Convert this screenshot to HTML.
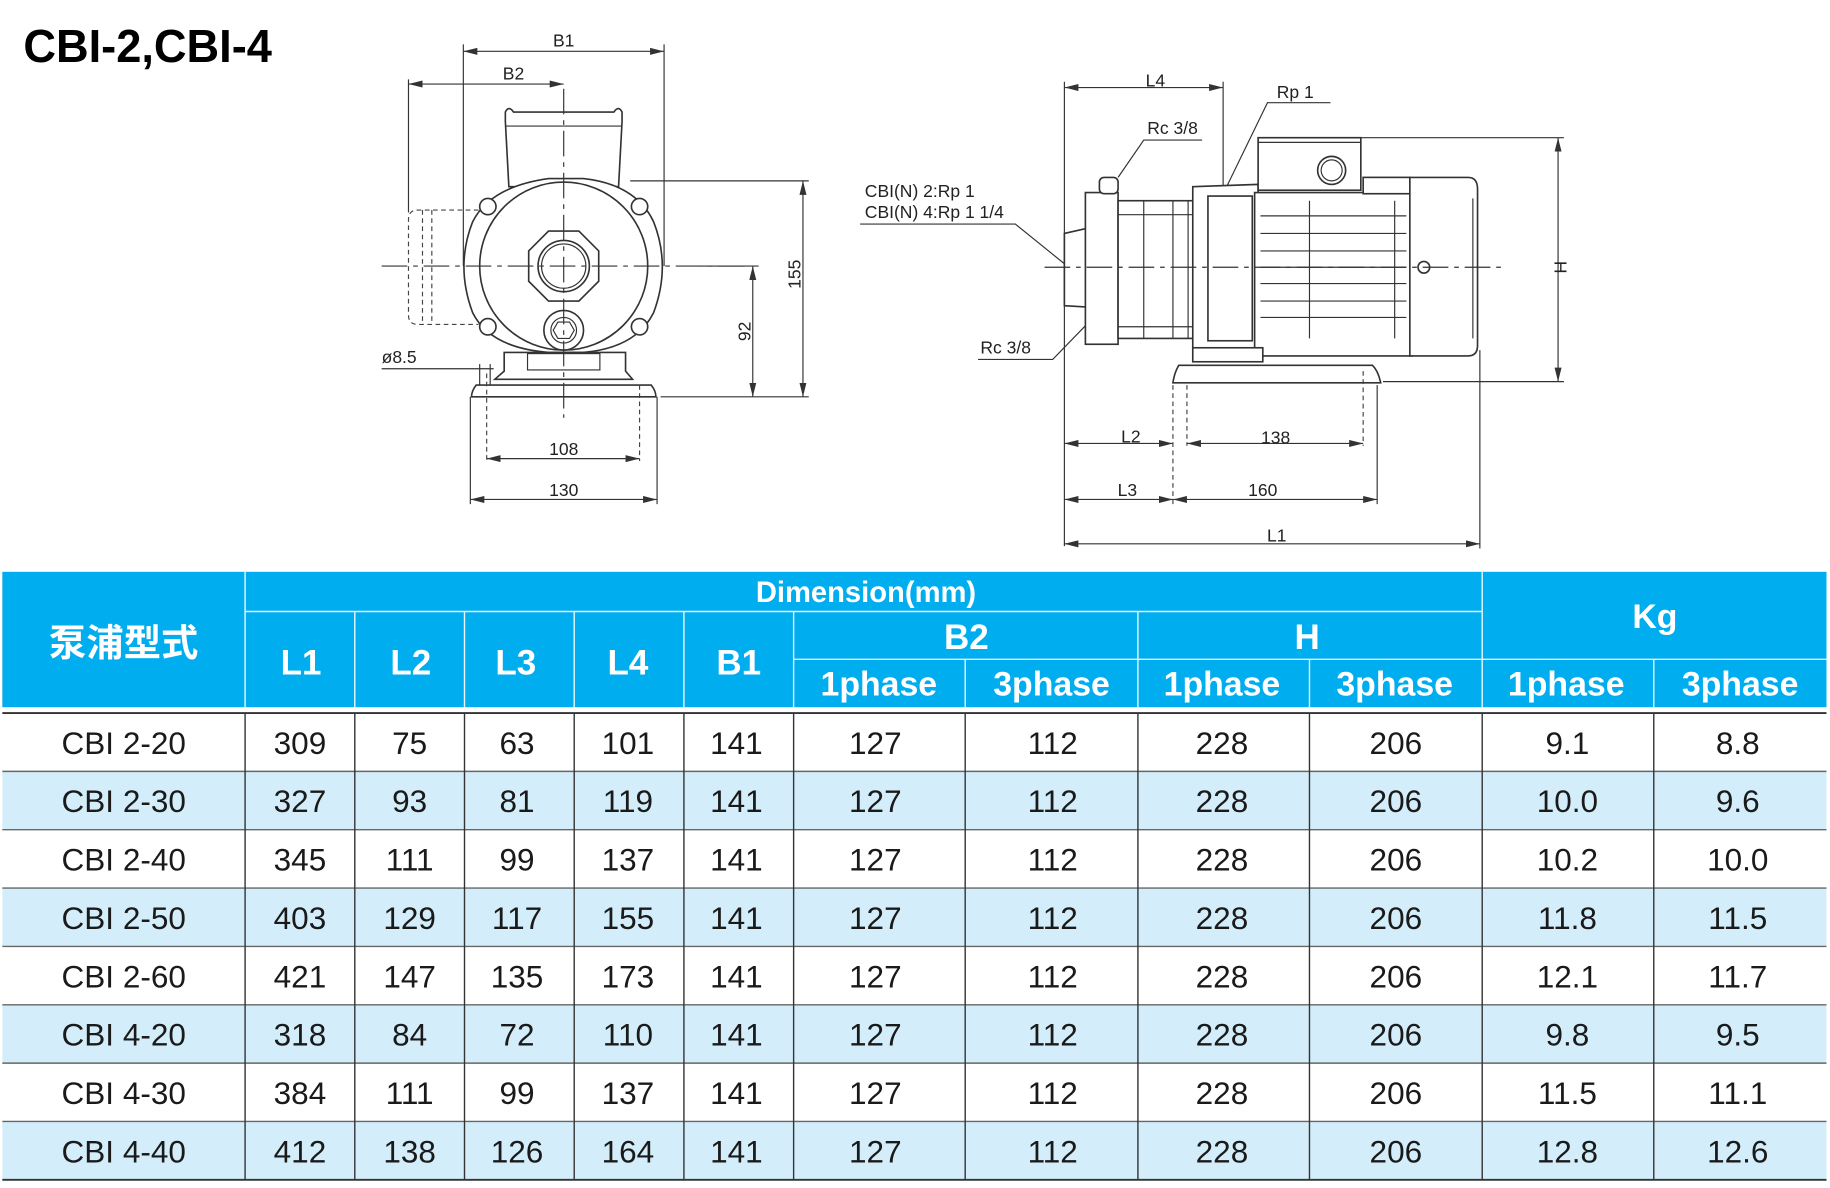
<!DOCTYPE html>
<html><head><meta charset="utf-8"><style>
html,body{margin:0;padding:0;background:#fff;}
svg{display:block;}
.d{font-family:"Liberation Sans",sans-serif;font-size:15px;fill:#222;}
.ln{stroke:#333;stroke-width:1;fill:none;}
.pt{stroke:#333;stroke-width:1.4;fill:#fff;}
.cl{stroke:#333;stroke-width:1;stroke-dasharray:22 5 4 5;fill:none;}
.dsh{stroke:#444;stroke-width:1;stroke-dasharray:4 3;fill:none;}
.h{font-family:"Liberation Sans","Noto Sans CJK TC",sans-serif;font-weight:bold;fill:#fff;text-anchor:middle;}
.t{font-family:"Liberation Sans",sans-serif;font-size:27px;fill:#1a1a1a;text-anchor:middle;}
</style></head><body>
<svg width="1830" height="1188" viewBox="0 0 1568 1018" preserveAspectRatio="none" xmlns="http://www.w3.org/2000/svg">
<defs>
<marker id="a" viewBox="0 0 12 6" refX="12" refY="3" markerWidth="12" markerHeight="6" orient="auto-start-reverse" markerUnits="userSpaceOnUse"><path d="M0,0 L12,3 L0,6 z" fill="#333"/></marker>
</defs>
<text x="20" y="53" font-family="Liberation Sans,sans-serif" font-weight="bold" font-size="40" textLength="213" lengthAdjust="spacingAndGlyphs">CBI-2,CBI-4</text>

<!-- FRONT VIEW -->
<g>
<line class="ln" x1="397" y1="44" x2="569" y2="44" marker-start="url(#a)" marker-end="url(#a)"/>
<text class="d" x="483" y="40" text-anchor="middle">B1</text>
<line class="ln" x1="397" y1="38" x2="397" y2="228"/>
<line class="ln" x1="569" y1="38" x2="569" y2="228"/>
<line class="ln" x1="350" y1="72" x2="483" y2="72" marker-start="url(#a)" marker-end="url(#a)"/>
<text class="d" x="440" y="68" text-anchor="middle">B2</text>
<line class="ln" x1="350" y1="68" x2="350" y2="182"/>
<!-- inlet dashed -->
<path class="dsh" d="M410,180 L358,180 Q350,180 350,188 L350,270 Q350,278 358,278 L410,278"/>
<line class="dsh" x1="362" y1="180" x2="362" y2="278"/><line class="dsh" x1="370" y1="180" x2="370" y2="278"/>
<!-- terminal box -->
<path class="pt" d="M433,104 L433,96 Q436,90 440,96 L526,96 Q530,90 533,96 L533,104 L530,160 L436,160 Z"/>
<line class="ln" x1="433" y1="108" x2="533" y2="108"/>
<!-- body -->
<path class="pt" d="M405,190 Q420,160 470,153 L500,153 Q545,158 560,190 Q575,228 560,268 Q545,298 500,302 L470,302 Q420,298 405,268 Q390,228 405,190 Z"/>
<circle class="pt" cx="483" cy="228" r="72"/>
<circle class="pt" cx="418" cy="177" r="7"/><circle class="pt" cx="548" cy="177" r="7"/>
<circle class="pt" cx="418" cy="280" r="7"/><circle class="pt" cx="548" cy="280" r="7"/>
<path class="pt" d="M470,198 L496,198 L513,215 L513,241 L496,258 L470,258 L453,241 L453,215 Z"/>
<circle class="pt" cx="483" cy="228" r="22"/><circle class="ln" cx="483" cy="228" r="19"/>
<circle class="pt" cx="483" cy="283" r="17"/><circle class="ln" cx="483" cy="283" r="11"/>
<path class="ln" d="M478,276 L488,276 L492,283 L488,290 L478,290 L474,283 Z"/>
<!-- foot -->
<path class="pt" d="M432,302 L432,318 L424,325 L542,325 L536,318 L536,302 Z"/>
<rect class="ln" x="452" y="303" width="62" height="14"/>
<path class="pt" d="M408,330 Q404,335 404,340 L562,340 Q562,335 558,330 Z"/>
<!-- centerlines -->
<line class="cl" x1="327" y1="228" x2="640" y2="228"/>
<line class="cl" x1="483" y1="76" x2="483" y2="358"/>
<!-- 155 / 92 -->
<line class="ln" x1="540" y1="155" x2="693" y2="155"/>
<line class="ln" x1="566" y1="340" x2="693" y2="340"/>
<line class="ln" x1="600" y1="228" x2="650" y2="228"/>
<line class="ln" x1="688" y1="155" x2="688" y2="340" marker-start="url(#a)" marker-end="url(#a)"/>
<line class="ln" x1="645" y1="228" x2="645" y2="340" marker-start="url(#a)" marker-end="url(#a)"/>
<text class="d" x="0" y="0" font-size="17" text-anchor="middle" transform="translate(686,235) rotate(-90)">155</text>
<text class="d" x="0" y="0" font-size="17" text-anchor="middle" transform="translate(643,284) rotate(-90)">92</text>
<!-- ø8.5 -->
<text class="d" x="327" y="311" font-size="17">ø8.5</text>
<line class="ln" x1="327" y1="316" x2="423" y2="316"/>
<line class="ln" x1="411" y1="312" x2="411" y2="330"/><line class="ln" x1="420" y1="312" x2="420" y2="330"/>
<!-- 108 / 130 -->
<line class="dsh" x1="417" y1="320" x2="417" y2="395"/><line class="dsh" x1="548" y1="330" x2="548" y2="395"/>
<line class="ln" x1="417" y1="393" x2="548" y2="393" marker-start="url(#a)" marker-end="url(#a)"/>
<text class="d" x="483" y="390" font-size="17" text-anchor="middle">108</text>
<line class="ln" x1="403" y1="340" x2="403" y2="432"/><line class="ln" x1="563" y1="340" x2="563" y2="432"/>
<line class="ln" x1="403" y1="428" x2="563" y2="428" marker-start="url(#a)" marker-end="url(#a)"/>
<text class="d" x="483" y="425" font-size="17" text-anchor="middle">130</text>
</g>

<!-- SIDE VIEW -->
<g>
<line class="ln" x1="912" y1="75" x2="1048" y2="75" marker-start="url(#a)" marker-end="url(#a)"/>
<text class="d" x="990" y="74" text-anchor="middle">L4</text>
<line class="ln" x1="912" y1="70" x2="912" y2="468"/>
<line class="ln" x1="1048" y1="70" x2="1048" y2="160"/>
<!-- Rp1 -->
<text class="d" x="1094" y="84">Rp 1</text>
<polyline class="ln" points="1140,88 1086,88 1051,160"/>
<!-- Rc top -->
<text class="d" x="983" y="115">Rc 3/8</text>
<polyline class="ln" points="1030,120 980,120 958,152"/>
<!-- CBI -->
<text class="d" x="741" y="169">CBI(N) 2:Rp 1</text>
<text class="d" x="741" y="187">CBI(N) 4:Rp 1 1/4</text>
<polyline class="ln" points="737,192 870,192 912,226"/>
<!-- Rc bottom -->
<text class="d" x="840" y="303">Rc 3/8</text>
<polyline class="ln" points="838,308 902,308 934,275"/>
<!-- pump head -->
<path class="pt" d="M912,200 L930,196 Q936,208 930,217 Q936,228 930,240 Q936,252 930,263 L912,262 Z"/>
<rect class="pt" x="930" y="165" width="28" height="130"/>
<rect class="pt" x="942" y="152" width="16" height="14" rx="4"/>
<rect class="pt" x="958" y="172" width="80" height="118"/>
<line class="ln" x1="980" y1="172" x2="980" y2="290"/><line class="ln" x1="1005" y1="172" x2="1005" y2="290"/><line class="ln" x1="1018" y1="172" x2="1018" y2="290"/>
<line class="ln" x1="958" y1="184" x2="1038" y2="184"/><line class="ln" x1="958" y1="280" x2="1038" y2="280"/>
<path class="pt" d="M1022,160 L1078,158 L1078,298 L1022,298 Z"/>
<rect class="pt" x="1035" y="168" width="38" height="124"/>
<!-- motor -->
<rect class="pt" x="1078" y="118" width="88" height="45"/>
<line class="ln" x1="1078" y1="122" x2="1166" y2="122"/>
<circle class="pt" cx="1141" cy="146" r="12"/><circle class="ln" cx="1141" cy="146" r="9"/>
<path class="pt" d="M1075,165 L1210,165 L1210,305 L1075,305 Z"/>
<rect class="pt" x="1168" y="152" width="40" height="14"/>
<g class="ln">
<line x1="1080" y1="185" x2="1205" y2="185"/><line x1="1080" y1="200" x2="1205" y2="200"/>
<line x1="1080" y1="215" x2="1205" y2="215"/><line x1="1080" y1="229" x2="1205" y2="229"/>
<line x1="1080" y1="243" x2="1205" y2="243"/><line x1="1080" y1="258" x2="1205" y2="258"/>
<line x1="1080" y1="272" x2="1205" y2="272"/>
<line x1="1122" y1="172" x2="1122" y2="290"/><line x1="1195" y1="172" x2="1195" y2="290"/>
</g>
<path class="pt" d="M1208,152 L1258,152 Q1266,152 1266,162 L1266,296 Q1266,305 1258,305 L1208,305 Z"/>
<line class="ln" x1="1262" y1="170" x2="1262" y2="290"/>
<circle class="pt" cx="1220" cy="229" r="5"/>
<rect class="pt" x="1022" y="298" width="60" height="12"/>
<path class="pt" d="M1010,313 Q1006,320 1005,328 L1183,328 Q1181,318 1176,313 Z"/>
<line class="cl" x1="895" y1="229" x2="1290" y2="229"/>
<!-- H -->
<line class="ln" x1="1166" y1="118" x2="1340" y2="118"/>
<line class="ln" x1="1185" y1="327" x2="1340" y2="327"/>
<line class="ln" x1="1335" y1="118" x2="1335" y2="327" marker-start="url(#a)" marker-end="url(#a)"/>
<text class="d" x="0" y="0" text-anchor="middle" transform="translate(1332,229) rotate(90)">H</text>
<!-- bottom dims -->
<line class="dsh" x1="1005" y1="330" x2="1005" y2="432"/><line class="dsh" x1="1017" y1="330" x2="1017" y2="382"/>
<line class="dsh" x1="1168" y1="318" x2="1168" y2="382"/><line class="ln" x1="1180" y1="330" x2="1180" y2="432"/>
<line class="ln" x1="1268" y1="300" x2="1268" y2="470"/>
<line class="ln" x1="912" y1="380" x2="1005" y2="380" marker-start="url(#a)" marker-end="url(#a)"/>
<text class="d" x="969" y="379" text-anchor="middle">L2</text>
<line class="ln" x1="1017" y1="380" x2="1168" y2="380" marker-start="url(#a)" marker-end="url(#a)"/>
<text class="d" x="1093" y="380" font-size="17" text-anchor="middle">138</text>
<line class="ln" x1="912" y1="428" x2="1005" y2="428" marker-start="url(#a)" marker-end="url(#a)"/>
<text class="d" x="966" y="425" text-anchor="middle">L3</text>
<line class="ln" x1="1005" y1="428" x2="1180" y2="428" marker-start="url(#a)" marker-end="url(#a)"/>
<text class="d" x="1082" y="425" font-size="17" text-anchor="middle">160</text>
<line class="ln" x1="912" y1="466" x2="1268" y2="466" marker-start="url(#a)" marker-end="url(#a)"/>
<text class="d" x="1094" y="464" text-anchor="middle">L1</text>
</g>

<!-- TABLE -->
<rect x="2" y="490" width="1563" height="116" fill="#00adee"/>
<g stroke="#e8f7fd" stroke-width="1.2">
<line x1="210" y1="490" x2="210" y2="606"/>
<line x1="1270" y1="490" x2="1270" y2="606"/>
<line x1="210" y1="524" x2="1270" y2="524"/>
<line x1="304" y1="524" x2="304" y2="606"/><line x1="398" y1="524" x2="398" y2="606"/>
<line x1="492" y1="524" x2="492" y2="606"/><line x1="586" y1="524" x2="586" y2="606"/>
<line x1="680" y1="524" x2="680" y2="606"/><line x1="975" y1="524" x2="975" y2="606"/>
<line x1="680" y1="565" x2="1565" y2="565"/>
<line x1="827" y1="565" x2="827" y2="606"/><line x1="1122" y1="565" x2="1122" y2="606"/>
<line x1="1417" y1="565" x2="1417" y2="606"/>
</g>
<text class="h" x="106" y="562" font-size="32">泵浦型式</text>
<text class="h" x="742" y="516" font-size="25">Dimension(mm)</text>
<text class="h" x="1418" y="538" font-size="29">Kg</text>
<text class="h" x="258" y="578" font-size="30">L1</text>
<text class="h" x="352" y="578" font-size="30">L2</text>
<text class="h" x="442" y="578" font-size="30">L3</text>
<text class="h" x="538" y="578" font-size="30">L4</text>
<text class="h" x="633" y="578" font-size="30">B1</text>
<text class="h" x="828" y="556" font-size="30">B2</text>
<text class="h" x="1120" y="556" font-size="30">H</text>
<g font-size="29">
<text class="h" x="753" y="596" font-size="29">1phase</text>
<text class="h" x="901" y="596" font-size="29">3phase</text>
<text class="h" x="1047" y="596" font-size="29">1phase</text>
<text class="h" x="1195" y="596" font-size="29">3phase</text>
<text class="h" x="1342" y="596" font-size="29">1phase</text>
<text class="h" x="1491" y="596" font-size="29">3phase</text>
</g>
<!-- rows -->
<rect x="2" y="661" width="1563" height="50" fill="#d3eefa"/>
<rect x="2" y="761" width="1563" height="50" fill="#d3eefa"/>
<rect x="2" y="861" width="1563" height="50" fill="#d3eefa"/>
<rect x="2" y="961" width="1563" height="50" fill="#d3eefa"/>
<g stroke="#333" stroke-width="1.2">
<line x1="2" y1="611" x2="1565" y2="611" stroke-width="1.6"/>
<line x1="2" y1="661" x2="1565" y2="661" stroke="#666"/>
<line x1="2" y1="711" x2="1565" y2="711" stroke="#666"/>
<line x1="2" y1="761" x2="1565" y2="761" stroke="#666"/>
<line x1="2" y1="811" x2="1565" y2="811" stroke="#666"/>
<line x1="2" y1="861" x2="1565" y2="861" stroke="#666"/>
<line x1="2" y1="911" x2="1565" y2="911" stroke="#666"/>
<line x1="2" y1="961" x2="1565" y2="961" stroke="#666"/>
<line x1="2" y1="1011" x2="1565" y2="1011" stroke-width="1.6"/>
<line x1="210" y1="611" x2="210" y2="1011"/><line x1="304" y1="611" x2="304" y2="1011"/>
<line x1="398" y1="611" x2="398" y2="1011"/><line x1="492" y1="611" x2="492" y2="1011"/>
<line x1="586" y1="611" x2="586" y2="1011"/><line x1="680" y1="611" x2="680" y2="1011"/>
<line x1="827" y1="611" x2="827" y2="1011"/><line x1="975" y1="611" x2="975" y2="1011"/>
<line x1="1122" y1="611" x2="1122" y2="1011"/><line x1="1270" y1="611" x2="1270" y2="1011"/>
<line x1="1417" y1="611" x2="1417" y2="1011"/>
</g>
<g class="t">
<text x="106" y="646">CBI 2-20</text><text x="257" y="646">309</text><text x="351" y="646">75</text><text x="443" y="646">63</text><text x="538" y="646">101</text><text x="631" y="646">141</text><text x="750" y="646">127</text><text x="902" y="646">112</text><text x="1047" y="646">228</text><text x="1196" y="646">206</text><text x="1343" y="646">9.1</text><text x="1489" y="646">8.8</text>
<text x="106" y="696">CBI 2-30</text><text x="257" y="696">327</text><text x="351" y="696">93</text><text x="443" y="696">81</text><text x="538" y="696">119</text><text x="631" y="696">141</text><text x="750" y="696">127</text><text x="902" y="696">112</text><text x="1047" y="696">228</text><text x="1196" y="696">206</text><text x="1343" y="696">10.0</text><text x="1489" y="696">9.6</text>
<text x="106" y="746">CBI 2-40</text><text x="257" y="746">345</text><text x="351" y="746">111</text><text x="443" y="746">99</text><text x="538" y="746">137</text><text x="631" y="746">141</text><text x="750" y="746">127</text><text x="902" y="746">112</text><text x="1047" y="746">228</text><text x="1196" y="746">206</text><text x="1343" y="746">10.2</text><text x="1489" y="746">10.0</text>
<text x="106" y="796">CBI 2-50</text><text x="257" y="796">403</text><text x="351" y="796">129</text><text x="443" y="796">117</text><text x="538" y="796">155</text><text x="631" y="796">141</text><text x="750" y="796">127</text><text x="902" y="796">112</text><text x="1047" y="796">228</text><text x="1196" y="796">206</text><text x="1343" y="796">11.8</text><text x="1489" y="796">11.5</text>
<text x="106" y="846">CBI 2-60</text><text x="257" y="846">421</text><text x="351" y="846">147</text><text x="443" y="846">135</text><text x="538" y="846">173</text><text x="631" y="846">141</text><text x="750" y="846">127</text><text x="902" y="846">112</text><text x="1047" y="846">228</text><text x="1196" y="846">206</text><text x="1343" y="846">12.1</text><text x="1489" y="846">11.7</text>
<text x="106" y="896">CBI 4-20</text><text x="257" y="896">318</text><text x="351" y="896">84</text><text x="443" y="896">72</text><text x="538" y="896">110</text><text x="631" y="896">141</text><text x="750" y="896">127</text><text x="902" y="896">112</text><text x="1047" y="896">228</text><text x="1196" y="896">206</text><text x="1343" y="896">9.8</text><text x="1489" y="896">9.5</text>
<text x="106" y="946">CBI 4-30</text><text x="257" y="946">384</text><text x="351" y="946">111</text><text x="443" y="946">99</text><text x="538" y="946">137</text><text x="631" y="946">141</text><text x="750" y="946">127</text><text x="902" y="946">112</text><text x="1047" y="946">228</text><text x="1196" y="946">206</text><text x="1343" y="946">11.5</text><text x="1489" y="946">11.1</text>
<text x="106" y="996">CBI 4-40</text><text x="257" y="996">412</text><text x="351" y="996">138</text><text x="443" y="996">126</text><text x="538" y="996">164</text><text x="631" y="996">141</text><text x="750" y="996">127</text><text x="902" y="996">112</text><text x="1047" y="996">228</text><text x="1196" y="996">206</text><text x="1343" y="996">12.8</text><text x="1489" y="996">12.6</text>
</g>
</svg>
</body></html>
